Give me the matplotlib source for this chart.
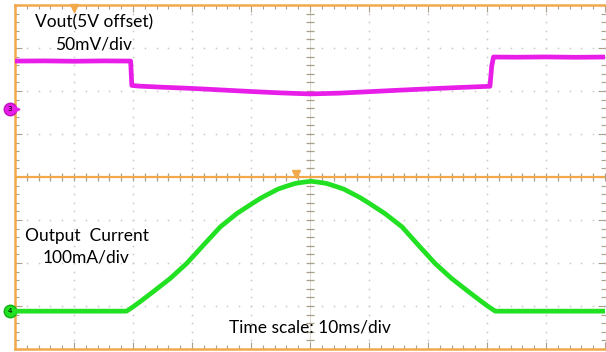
import matplotlib
matplotlib.use("Agg")
import matplotlib.pyplot as plt
import numpy as np

# ---------------- data ----------------
# time in ms (10 ms/div, 10 divisions)
vout_t = [0, 5, 10, 15, 19.6, 19.8, 21, 25, 30, 35, 40, 45, 50, 55, 60, 65, 70, 75, 80.5, 80.8, 81.1, 85, 90, 95, 100]
# Vout deviation in mV above channel-3 reference (50 mV/div)
vout_mv = [55.8, 56.0, 55.6, 56.0, 55.8, 27.5, 26.7, 25.4, 24.0, 22.2, 20.4, 18.8, 17.6, 18.5, 20.2, 21.9, 23.5, 25.0, 26.5, 50.0, 60.5, 60.3, 60.6, 60.2, 60.5]

cur_t = [0, 10, 18.9, 20.0, 21.2, 23.4, 26.3, 29.1, 31.9, 34.8, 37.6, 40.4, 41.8, 43.2, 44.6, 46.1, 47.5, 48.9, 50.2,
         51.4, 52.8, 54.2, 55.7, 57.1, 58.5, 59.9, 62.7, 65.6, 68.4, 71.2, 74.0, 76.9, 79.1, 80.3, 81.4, 90, 100]
# output current in mA (100 mA/div)
cur_ma = [0, 0, 0, 10, 22, 45, 76, 111, 153, 196, 227, 252, 264, 274, 284, 291, 297, 300, 302,
          300, 297, 291, 284, 274, 264, 252, 227, 196, 153, 111, 76, 45, 22, 10, 0, 0, 0]

ch3_ref_div = 1.58    # channel 3 marker position (div)
ch4_ref_div = -3.12   # channel 4 marker position (div)
v_per_div = 50.0
i_per_div = 100.0

ORANGE = "#f2a94c"
MAGENTA = "#e81ee8"
GREEN = "#22e022"
GRIDC = "#c9c9c9"
TICKC = "#a8a08a"

fig = plt.figure(figsize=(6.06, 3.52), dpi=100)
ax = fig.add_axes([15/606, 3/352, 590/606, 344/352])
ax.set_xlim(0, 100)
ax.set_ylim(-4, 4)

# dotted graticule
for xm in np.arange(0, 101, 10):
    ys = np.arange(-4, 4.01, 0.2)
    ax.plot(np.full_like(ys, xm), ys, ls="none", marker="s", ms=1.1, mec="none", mfc=GRIDC, zorder=1)
for ym in np.arange(-4, 4.01, 1):
    xs = np.arange(0, 100.1, 2)
    ax.plot(xs, np.full_like(xs, ym), ls="none", marker="s", ms=1.1, mec="none", mfc=GRIDC, zorder=1)

# center crosshair ticks
ax.axvline(50, color="#d8d4c8", lw=0.6, zorder=1)
yt = np.arange(-4, 4.01, 0.2)
ax.plot(np.full_like(yt, 50), yt, ls="none", marker="_", ms=6, mew=0.9, color=TICKC, zorder=2)
xt = np.arange(0, 100.1, 2)
ax.plot(xt, np.zeros_like(xt), ls="none", marker="|", ms=6, mew=0.9, color=TICKC, zorder=2)
ax.axhline(0, color=ORANGE, lw=1.6, zorder=3)

# edge ticks
ax.set_xticks(np.arange(0, 101, 10))
ax.set_xticks(np.arange(0, 101, 2), minor=True)
ax.set_yticks(np.arange(-4, 4.01, 1))
ax.set_yticks(np.arange(-4, 4.01, 0.2), minor=True)
ax.tick_params(which="both", direction="in", top=True, right=True, left=True, bottom=True,
               labelbottom=False, labelleft=False, color=TICKC, width=0.8)
ax.tick_params(which="major", length=5)
ax.tick_params(which="minor", length=3)

for s in ["left", "top", "bottom"]:
    ax.spines[s].set_color(ORANGE)
    ax.spines[s].set_linewidth(1.8)
ax.spines["right"].set_visible(False)

# traces
vy = [ch3_ref_div + v / v_per_div for v in vout_mv]
iy = [ch4_ref_div + i / i_per_div for i in cur_ma]
ax.plot(vout_t, vy, color=MAGENTA, lw=3.4, solid_joinstyle="round", zorder=5)
ax.plot(cur_t, iy, color=GREEN, lw=3.4, solid_joinstyle="round", zorder=5)

# channel markers
ax.plot([-0.85], [ch3_ref_div], marker="o", ms=9, mfc=MAGENTA, mec="#c010c0", clip_on=False, zorder=6)
ax.text(-0.85, ch3_ref_div, "3", fontsize=5, ha="center", va="center", color="black", clip_on=False, zorder=7)
ax.plot([0.35], [ch3_ref_div], marker=">", ms=3.5, color=MAGENTA, clip_on=False, zorder=6)
ax.plot([-0.85], [ch4_ref_div], marker="o", ms=9, mfc=GREEN, mec="#10b010", clip_on=False, zorder=6)
ax.text(-0.85, ch4_ref_div, "4", fontsize=5, ha="center", va="center", color="black", clip_on=False, zorder=7)
ax.plot([0.35], [ch4_ref_div], marker=">", ms=3.5, color=GREEN, clip_on=False, zorder=6)

# trigger markers
ax.plot([10], [3.93], marker="v", ms=6, color=ORANGE, clip_on=False, zorder=6)
ax.plot([47.6], [0.07], marker="v", ms=6, color=ORANGE, clip_on=False, zorder=6)

# labels
fam = ["Lato", "DejaVu Sans"]
fs = 12.5
ax.text(3.4, 3.6, "Vout(5V offset)", fontsize=fs, family=fam, ha="left", va="center")
ax.text(6.8, 3.07, "50mV/div", fontsize=fs, family=fam, ha="left", va="center")
ax.text(1.7, -1.37, "Output  Current", fontsize=fs, family=fam, ha="left", va="center")
ax.text(4.7, -1.88, "100mA/div", fontsize=fs, family=fam, ha="left", va="center")
ax.text(50, -3.5, "Time scale: 10ms/div", fontsize=fs, family=fam, ha="center", va="center")

fig.savefig("out.png", dpi=100)
